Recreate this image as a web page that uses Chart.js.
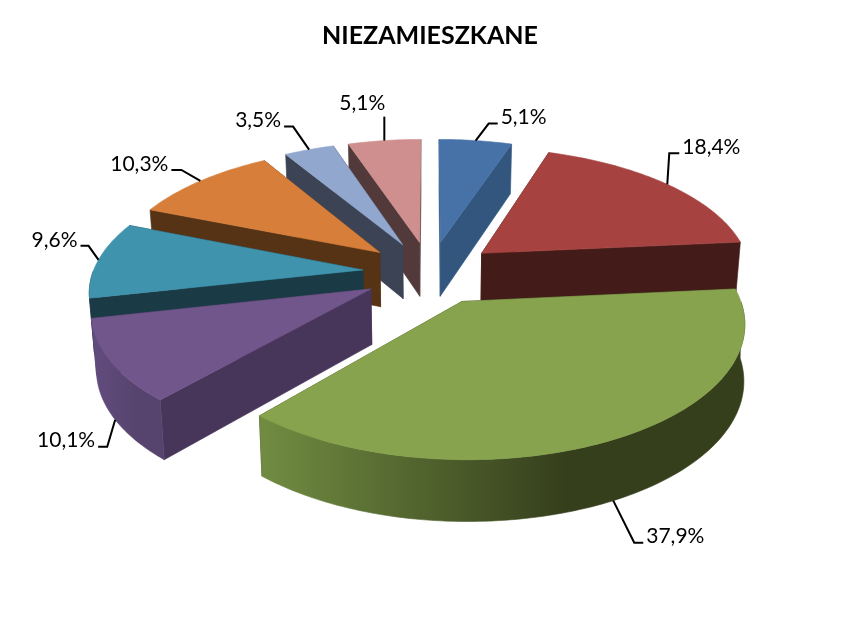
<!DOCTYPE html>
<html><head><meta charset="utf-8">
<script src="https://cdn.jsdelivr.net/npm/chart.js@4/dist/chart.umd.min.js"></script>
<style>html,body{margin:0;padding:0;background:#fff}canvas{display:block}</style>
</head><body><canvas id="c" width="860" height="621"></canvas>
<script>
const chartTitle = "NIEZAMIESZKANE";
const sliceValues = [5.1, 18.4, 37.9, 10.1, 9.6, 10.3, 3.5, 5.1];
const sliceLabels = ["5,1%", "18,4%", "37,9%", "10,1%", "9,6%", "10,3%", "3,5%", "5,1%"];
const topColors  = ["#4672a7", "#a64340", "#87a34d", "#71568c", "#3f93ac", "#d77f3a", "#92a7ce", "#cf8f8f"];
const faceColors = ["#33567f", "#431b19", "#3a4520", "#47355a", "#1a3a46", "#573316", "#3b4354", "#533a3a"];
const wallFrom   = ["#33567f", "#431b19", "#718c42", "#624c7f", "#1a3a46", "#573316", "#3b4354", "#533a3a"];
const wallTo     = ["#33567f", "#431b19", "#353f1c", "#57446e", "#1a3a46", "#573316", "#3b4354", "#533a3a"];
// label leader: elbow relative to rim anchor, horizontal run, text side
const leaders = [
  {dx:13, dy:-17, run:9,  side:"left",  tdy:-6, tdx:0},
  {dx:2,  dy:-31, run:10, side:"left",  tdy:-6, tdx:0},
  {dx:21, dy:42,  run:9,  side:"left",  tdy:-6, tdx:0},
  {dx:-8, dy:27,  run:-9, side:"right", tdy:-6, tdx:0},
  {dx:-10,dy:-14, run:-8, side:"right", tdy:-6, tdx:0},
  {dx:-19,dy:-11, run:-10,side:"right", tdy:-6, tdx:0},
  {dx:-16,dy:-23, run:-9, side:"right", tdy:-6, tdx:0},
  {dx:0,  dy:-24, run:0,  side:"right", tdy:-13, tdx:4}
];

const SX = 270, SY = 126, PERSP = 0.145, DEPTH = 55;
function proj(cx, cy, u, v, low) {
  let x = SX * u / (1 - PERSP * v), y = SY * v / (1 - PERSP * v);
  if (low) { x *= (u > 0 && v > 0) ? 0.997 : 0.985; y += DEPTH / (1 - 0.09 * v); }
  return [cx + x, cy + y];
}
const pie3d = {
  id: "pie3d",
  beforeDatasetDraw(chart) {
    const ctx = chart.ctx, meta = chart.getDatasetMeta(0);
    const parts = meta.data.map((arc, i) => {
      const p = arc.getProps(["x","y","startAngle","endAngle","outerRadius"]);
      const mid = (p.startAngle + p.endAngle) / 2;
      const off = arc.options.offset / p.outerRadius;
      return {i, p, mid, ou: off * Math.cos(mid), ov: off * Math.sin(mid)};
    });
    const order = [...parts].sort((a, b) => (a.ov + 0.4*Math.sin(a.mid)) - (b.ov + 0.4*Math.sin(b.mid)));
    const poly = (pts, fill) => {
      ctx.beginPath();
      pts.forEach((q, k) => k ? ctx.lineTo(q[0], q[1]) : ctx.moveTo(q[0], q[1]));
      ctx.closePath();
      ctx.fillStyle = fill; ctx.fill();
      ctx.strokeStyle = fill; ctx.lineWidth = 0.6; ctx.stroke();
    };
    for (const s of order) {
      const {x, y, startAngle: a0, endAngle: a1} = s.p, i = s.i;
      const P = (u, v, low) => proj(x, y, u, v, low);
      const rim = a => [s.ou + Math.cos(a), s.ov + Math.sin(a)];
      // cut faces
      for (const a of [a1, a0]) {
        const r = rim(a);
        poly([P(s.ou, s.ov), P(r[0], r[1]), P(r[0], r[1], true), P(s.ou, s.ov, true)], faceColors[i]);
      }
      const steps = Math.max(6, Math.ceil((a1 - a0) / 0.02));
      const top = [P(s.ou, s.ov)], upper = [], lower = [];
      for (let k = 0; k <= steps; k++) {
        const a = a0 + (a1 - a0) * k / steps, r = rim(a);
        top.push(P(r[0], r[1]));
        if (Math.sin(a) > -0.01) { upper.push(P(r[0], r[1])); lower.push(P(r[0], r[1], true)); }
      }
      // outer wall, front-facing part only
      if (upper.length > 1) {
        const xs = upper.map(q => q[0]), x0 = Math.min(...xs), x1 = Math.max(...xs);
        const g = ctx.createLinearGradient(x0, 0, x1, 0);
        g.addColorStop(0, wallFrom[i]);
        g.addColorStop(0.63, wallTo[i]);
        g.addColorStop(1, wallTo[i]);
        poly(upper.concat(lower.reverse()), g);
      }
      poly(top, topColors[i]);
    }
    // leaders and labels
    ctx.save();
    ctx.strokeStyle = "#000"; ctx.lineWidth = 2; ctx.lineJoin = "miter";
    ctx.fillStyle = "#000"; ctx.font = "21px Lato"; ctx.textBaseline = "middle";
    for (const s of parts) {
      const l = leaders[s.i], r = [s.ou + Math.cos(s.mid), s.ov + Math.sin(s.mid)];
      const a = proj(s.p.x, s.p.y, r[0], r[1], Math.sin(s.mid) > 0.4);
      const ex = a[0] + l.dx, ey = a[1] + l.dy;
      ctx.beginPath(); ctx.moveTo(a[0], a[1]); ctx.lineTo(ex, ey); ctx.lineTo(ex + l.run, ey); ctx.stroke();
      ctx.textAlign = l.side;
      const tx = ex + l.run + (l.side === "left" ? 3 : -3) + l.tdx;
      ctx.fillText(sliceLabels[s.i], tx, ey + l.tdy);
    }
    ctx.restore();
    return false;
  }
};
new Chart(document.getElementById("c"), {
  type: "pie",
  data: {
    labels: sliceLabels,
    datasets: [{
      data: sliceValues,
      backgroundColor: topColors,
      offset: 62.5,
      radius: 250,
      borderWidth: 0
    }]
  },
  options: {
    responsive: false,
    animation: false,
    layout: {padding: {bottom: 134.5}},
    plugins: {
      legend: {display: false},
      tooltip: {enabled: false},
      title: {display: true, text: chartTitle, color: "#000",
        font: {family: "Lato", size: 25, weight: "bold"}, padding: {top: 20.5, bottom: 8}}
    }
  },
  plugins: [pie3d]
});
</script>
</body></html>
